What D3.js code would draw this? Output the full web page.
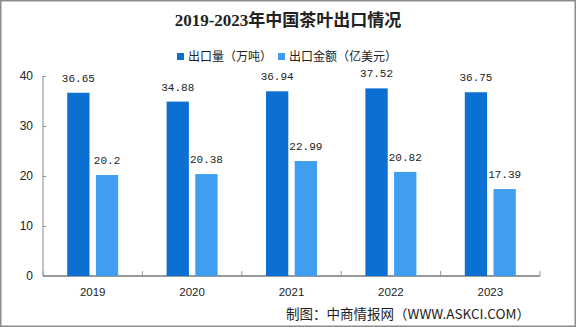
<!DOCTYPE html>
<html><head><meta charset="utf-8">
<script src="https://cdn.jsdelivr.net/npm/d3@7"></script>
<style>body{margin:0;background:#fff}svg{display:block}</style>
</head><body>
<script>
const years = ["2019","2020","2021","2022","2023"];
const exportVolume = [36.65,34.88,36.94,37.52,36.75];
const exportValue = [20.2,20.38,22.99,20.82,17.39];
const seriesNames = ["出口量（万吨）","出口金额（亿美元）"];
const seriesColors = ["#0b70d2","#3f9ef0"];
const yTicks = [0,10,20,30,40];
const title = "2019-2023年中国茶叶出口情况";
const source = "制图：中商情报网（WWW.ASKCI.COM）";

const W=576,H=327;
const svg=d3.select("body").append("svg").attr("width",W).attr("height",H);
svg.append("rect").attr("x",0.75).attr("y",0.75).attr("width",W-1.5).attr("height",H-1.5).attr("fill","#fff").attr("stroke","#8c8c8c").attr("stroke-width",1.5);

const x=d3.scaleBand().domain(years).range([43,540]);
const xs=d3.scaleBand().domain([0,1]).range([24.2,75.2]).paddingInner(0.223);
const y=d3.scaleLinear().domain([0,40]).range([276,76]);

// title
svg.append("text").attr("x",288).attr("y",26).attr("text-anchor","middle")
  .attr("font-family","Liberation Serif, Noto Sans CJK SC").attr("font-weight","bold").attr("font-size",17)
  .attr("fill","#222").text(title);

// legend
const lg=svg.append("g").attr("font-family","Noto Sans CJK SC").attr("font-size",12).attr("fill","#222");
const lx=[177,278];
seriesNames.forEach((n,i)=>{
  lg.append("rect").attr("x",lx[i]).attr("y",53).attr("width",7).attr("height",7).attr("fill",seriesColors[i]);
  lg.append("text").attr("x",lx[i]+11).attr("y",61).text(n);
});

// axes
const ya=svg.append("g").attr("transform","translate(43,0)")
  .call(d3.axisLeft(y).tickValues(yTicks).tickSize(-3).tickPadding(10));
ya.select(".domain").attr("stroke","#888").attr("d","M0,76V276");
ya.selectAll(".tick line").attr("stroke","#888");
ya.selectAll("text").attr("font-family","Liberation Sans, Arial").attr("font-size",12).attr("fill","#222");

const xa=svg.append("g").attr("transform","translate(0,276)")
  .call(d3.axisBottom(x).tickSize(0).tickPadding(12));
xa.select(".domain").attr("stroke","#999").attr("stroke-width",2).attr("d","M43,0H540");
xa.selectAll("text").attr("font-family","Liberation Sans, Arial").attr("font-size",11.5).attr("fill","#222");
const bounds=years.map(d=>x(d)).concat([540]);
svg.append("g").selectAll("line").data(bounds).join("line")
  .attr("x1",d=>d).attr("x2",d=>d).attr("y1",276).attr("y2",271).attr("stroke","#999");

// bars
const series=[exportVolume,exportValue];
series.forEach((vals,si)=>{
  const g=svg.append("g");
  g.selectAll("rect").data(vals).join("rect")
    .attr("x",(d,i)=>x(years[i])+xs(si)).attr("width",xs.bandwidth())
    .attr("y",d=>y(d)).attr("height",d=>y(0)-y(d)).attr("fill",seriesColors[si]);
  g.selectAll("text").data(vals).join("text")
    .attr("x",(d,i)=>x(years[i])+xs(si)+xs.bandwidth()/2).attr("y",d=>y(d)-11)
    .attr("text-anchor","middle").attr("font-family","Liberation Mono, monospace").attr("font-size",11)
    .attr("fill","#222").text(d=>d);
});

// source
svg.append("text").attr("x",530).attr("y",319).attr("text-anchor","end")
  .attr("font-family","Noto Sans CJK SC").attr("font-size",13.5).attr("fill","#222").text(source);
</script>
</body></html>
